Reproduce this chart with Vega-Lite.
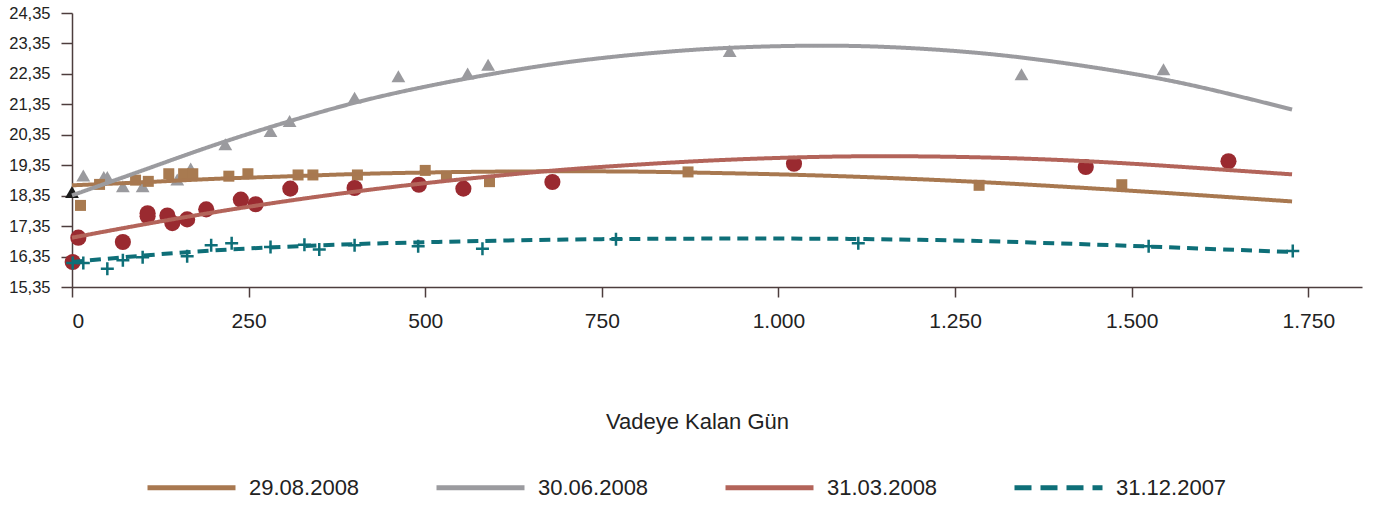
{
  "$schema": "https://vega.github.io/schema/vega-lite/v6.json",
  "width": 1290,
  "height": 274,
  "autosize": "none",
  "padding": {"left": 72, "top": 13, "right": 15, "bottom": 222},
  "background": "white",
  "config": {
    "view": {"stroke": null},
    "font": "Liberation Sans",
    "axis": {"labelFont": "Liberation Sans", "titleFont": "Liberation Sans", "labelColor": "#222", "titleColor": "#222", "domainColor": "#4d3d3d", "tickColor": "#4d3d3d", "domainWidth": 1.5, "tickWidth": 1.5, "grid": false},
    "legend": {"labelFont": "Liberation Sans", "labelColor": "#222", "padding": 0}
  },
  "datasets": {
    "noktalar": [
      {"seri": "30.06.2008", "gun": 0, "faiz": 18.47},
      {"seri": "30.06.2008", "gun": 16, "faiz": 19.01},
      {"seri": "30.06.2008", "gun": 45, "faiz": 18.96},
      {"seri": "30.06.2008", "gun": 50, "faiz": 18.96},
      {"seri": "30.06.2008", "gun": 72, "faiz": 18.66},
      {"seri": "30.06.2008", "gun": 100, "faiz": 18.66},
      {"seri": "30.06.2008", "gun": 149, "faiz": 18.88},
      {"seri": "30.06.2008", "gun": 168, "faiz": 19.24},
      {"seri": "30.06.2008", "gun": 217, "faiz": 20.04},
      {"seri": "30.06.2008", "gun": 281, "faiz": 20.47},
      {"seri": "30.06.2008", "gun": 308, "faiz": 20.8},
      {"seri": "30.06.2008", "gun": 400, "faiz": 21.57},
      {"seri": "30.06.2008", "gun": 462, "faiz": 22.27},
      {"seri": "30.06.2008", "gun": 560, "faiz": 22.36},
      {"seri": "30.06.2008", "gun": 589, "faiz": 22.65},
      {"seri": "30.06.2008", "gun": 931, "faiz": 23.1},
      {"seri": "30.06.2008", "gun": 1344, "faiz": 22.34},
      {"seri": "30.06.2008", "gun": 1545, "faiz": 22.5},
      {"seri": "29.08.2008", "gun": 12, "faiz": 18.03},
      {"seri": "29.08.2008", "gun": 39, "faiz": 18.72},
      {"seri": "29.08.2008", "gun": 90, "faiz": 18.86},
      {"seri": "29.08.2008", "gun": 108, "faiz": 18.82},
      {"seri": "29.08.2008", "gun": 137, "faiz": 19.07},
      {"seri": "29.08.2008", "gun": 158, "faiz": 19.07},
      {"seri": "29.08.2008", "gun": 171, "faiz": 19.07},
      {"seri": "29.08.2008", "gun": 222, "faiz": 18.99},
      {"seri": "29.08.2008", "gun": 249, "faiz": 19.07},
      {"seri": "29.08.2008", "gun": 320, "faiz": 19.03},
      {"seri": "29.08.2008", "gun": 341, "faiz": 19.03},
      {"seri": "29.08.2008", "gun": 404, "faiz": 19.03},
      {"seri": "29.08.2008", "gun": 500, "faiz": 19.18},
      {"seri": "29.08.2008", "gun": 530, "faiz": 18.99},
      {"seri": "29.08.2008", "gun": 591, "faiz": 18.81},
      {"seri": "29.08.2008", "gun": 872, "faiz": 19.13},
      {"seri": "29.08.2008", "gun": 1284, "faiz": 18.69},
      {"seri": "29.08.2008", "gun": 1486, "faiz": 18.71},
      {"seri": "31.03.2008", "gun": 1, "faiz": 16.17},
      {"seri": "31.03.2008", "gun": 9, "faiz": 16.97},
      {"seri": "31.03.2008", "gun": 72, "faiz": 16.83},
      {"seri": "31.03.2008", "gun": 107, "faiz": 17.77},
      {"seri": "31.03.2008", "gun": 107, "faiz": 17.67},
      {"seri": "31.03.2008", "gun": 135, "faiz": 17.7},
      {"seri": "31.03.2008", "gun": 142, "faiz": 17.45},
      {"seri": "31.03.2008", "gun": 163, "faiz": 17.57},
      {"seri": "31.03.2008", "gun": 190, "faiz": 17.9},
      {"seri": "31.03.2008", "gun": 239, "faiz": 18.22},
      {"seri": "31.03.2008", "gun": 260, "faiz": 18.07},
      {"seri": "31.03.2008", "gun": 309, "faiz": 18.58},
      {"seri": "31.03.2008", "gun": 400, "faiz": 18.6},
      {"seri": "31.03.2008", "gun": 491, "faiz": 18.71},
      {"seri": "31.03.2008", "gun": 554, "faiz": 18.58},
      {"seri": "31.03.2008", "gun": 680, "faiz": 18.8},
      {"seri": "31.03.2008", "gun": 1022, "faiz": 19.4},
      {"seri": "31.03.2008", "gun": 1435, "faiz": 19.29},
      {"seri": "31.03.2008", "gun": 1637, "faiz": 19.48},
      {"seri": "31.12.2007", "gun": 1, "faiz": 16.14},
      {"seri": "31.12.2007", "gun": 16, "faiz": 16.14},
      {"seri": "31.12.2007", "gun": 50, "faiz": 15.95},
      {"seri": "31.12.2007", "gun": 72, "faiz": 16.23},
      {"seri": "31.12.2007", "gun": 100, "faiz": 16.33},
      {"seri": "31.12.2007", "gun": 163, "faiz": 16.36},
      {"seri": "31.12.2007", "gun": 197, "faiz": 16.72},
      {"seri": "31.12.2007", "gun": 226, "faiz": 16.79},
      {"seri": "31.12.2007", "gun": 281, "faiz": 16.66},
      {"seri": "31.12.2007", "gun": 329, "faiz": 16.74},
      {"seri": "31.12.2007", "gun": 350, "faiz": 16.58},
      {"seri": "31.12.2007", "gun": 400, "faiz": 16.72},
      {"seri": "31.12.2007", "gun": 490, "faiz": 16.69},
      {"seri": "31.12.2007", "gun": 581, "faiz": 16.61},
      {"seri": "31.12.2007", "gun": 770, "faiz": 16.92},
      {"seri": "31.12.2007", "gun": 1113, "faiz": 16.79},
      {"seri": "31.12.2007", "gun": 1524, "faiz": 16.69},
      {"seri": "31.12.2007", "gun": 1728, "faiz": 16.53}
    ],
    "egriler": [
      {"seri": "29.08.2008", "gun": 0, "faiz": 18.69},
      {"seri": "29.08.2008", "gun": 100, "faiz": 18.79},
      {"seri": "29.08.2008", "gun": 200, "faiz": 18.9},
      {"seri": "29.08.2008", "gun": 300, "faiz": 18.98},
      {"seri": "29.08.2008", "gun": 400, "faiz": 19.06},
      {"seri": "29.08.2008", "gun": 500, "faiz": 19.11},
      {"seri": "29.08.2008", "gun": 600, "faiz": 19.14},
      {"seri": "29.08.2008", "gun": 700, "faiz": 19.15},
      {"seri": "29.08.2008", "gun": 800, "faiz": 19.14},
      {"seri": "29.08.2008", "gun": 900, "faiz": 19.1},
      {"seri": "29.08.2008", "gun": 1000, "faiz": 19.05},
      {"seri": "29.08.2008", "gun": 1100, "faiz": 18.98},
      {"seri": "29.08.2008", "gun": 1200, "faiz": 18.89},
      {"seri": "29.08.2008", "gun": 1300, "faiz": 18.78},
      {"seri": "29.08.2008", "gun": 1400, "faiz": 18.65},
      {"seri": "29.08.2008", "gun": 1500, "faiz": 18.51},
      {"seri": "29.08.2008", "gun": 1600, "faiz": 18.36},
      {"seri": "29.08.2008", "gun": 1727, "faiz": 18.16},
      {"seri": "30.06.2008", "gun": 0, "faiz": 18.36},
      {"seri": "30.06.2008", "gun": 100, "faiz": 19.18},
      {"seri": "30.06.2008", "gun": 200, "faiz": 20.0},
      {"seri": "30.06.2008", "gun": 300, "faiz": 20.74},
      {"seri": "30.06.2008", "gun": 400, "faiz": 21.4},
      {"seri": "30.06.2008", "gun": 500, "faiz": 21.93},
      {"seri": "30.06.2008", "gun": 600, "faiz": 22.37},
      {"seri": "30.06.2008", "gun": 700, "faiz": 22.73},
      {"seri": "30.06.2008", "gun": 800, "faiz": 22.99},
      {"seri": "30.06.2008", "gun": 900, "faiz": 23.17},
      {"seri": "30.06.2008", "gun": 1000, "faiz": 23.26},
      {"seri": "30.06.2008", "gun": 1100, "faiz": 23.27},
      {"seri": "30.06.2008", "gun": 1200, "faiz": 23.18},
      {"seri": "30.06.2008", "gun": 1300, "faiz": 23.0},
      {"seri": "30.06.2008", "gun": 1400, "faiz": 22.72},
      {"seri": "30.06.2008", "gun": 1500, "faiz": 22.36},
      {"seri": "30.06.2008", "gun": 1600, "faiz": 21.9},
      {"seri": "30.06.2008", "gun": 1727, "faiz": 21.18},
      {"seri": "31.03.2008", "gun": 0, "faiz": 16.97},
      {"seri": "31.03.2008", "gun": 100, "faiz": 17.4},
      {"seri": "31.03.2008", "gun": 200, "faiz": 17.8},
      {"seri": "31.03.2008", "gun": 300, "faiz": 18.16},
      {"seri": "31.03.2008", "gun": 400, "faiz": 18.48},
      {"seri": "31.03.2008", "gun": 500, "faiz": 18.76},
      {"seri": "31.03.2008", "gun": 600, "faiz": 19.0},
      {"seri": "31.03.2008", "gun": 700, "faiz": 19.21},
      {"seri": "31.03.2008", "gun": 800, "faiz": 19.37},
      {"seri": "31.03.2008", "gun": 900, "faiz": 19.5},
      {"seri": "31.03.2008", "gun": 1000, "faiz": 19.59},
      {"seri": "31.03.2008", "gun": 1100, "faiz": 19.64},
      {"seri": "31.03.2008", "gun": 1200, "faiz": 19.64},
      {"seri": "31.03.2008", "gun": 1300, "faiz": 19.6},
      {"seri": "31.03.2008", "gun": 1400, "faiz": 19.52},
      {"seri": "31.03.2008", "gun": 1500, "faiz": 19.4},
      {"seri": "31.03.2008", "gun": 1600, "faiz": 19.25},
      {"seri": "31.03.2008", "gun": 1727, "faiz": 19.05},
      {"seri": "31.12.2007", "gun": 0, "faiz": 16.17},
      {"seri": "31.12.2007", "gun": 100, "faiz": 16.38},
      {"seri": "31.12.2007", "gun": 200, "faiz": 16.55},
      {"seri": "31.12.2007", "gun": 300, "faiz": 16.67},
      {"seri": "31.12.2007", "gun": 400, "faiz": 16.76},
      {"seri": "31.12.2007", "gun": 500, "faiz": 16.82},
      {"seri": "31.12.2007", "gun": 600, "faiz": 16.87},
      {"seri": "31.12.2007", "gun": 700, "faiz": 16.91},
      {"seri": "31.12.2007", "gun": 800, "faiz": 16.93},
      {"seri": "31.12.2007", "gun": 900, "faiz": 16.94},
      {"seri": "31.12.2007", "gun": 1000, "faiz": 16.94},
      {"seri": "31.12.2007", "gun": 1100, "faiz": 16.93},
      {"seri": "31.12.2007", "gun": 1200, "faiz": 16.9},
      {"seri": "31.12.2007", "gun": 1300, "faiz": 16.85},
      {"seri": "31.12.2007", "gun": 1400, "faiz": 16.78},
      {"seri": "31.12.2007", "gun": 1500, "faiz": 16.7},
      {"seri": "31.12.2007", "gun": 1600, "faiz": 16.61},
      {"seri": "31.12.2007", "gun": 1727, "faiz": 16.5}
    ]
  },
  "encoding": {
    "x": {
      "field": "gun", "type": "quantitative",
      "scale": {"domain": [0, 1826], "nice": false, "zero": false},
      "axis": {
        "values": [0, 250, 500, 750, 1000, 1250, 1500, 1750],
        "labelExpr": "replace(format(datum.value, ','), ',', '.')",
        "labelFontSize": 21, "tickSize": 10, "labelPadding": 13,
        "title": "Vadeye Kalan Gün", "titleFontSize": 22, "titleFontWeight": "normal",
        "titleX": 625, "titleY": 134, "titleAlign": "center", "titleBaseline": "middle"
      }
    },
    "y": {
      "field": "faiz", "type": "quantitative",
      "scale": {"domain": [15.35, 24.35], "nice": false, "zero": false},
      "axis": {
        "values": [15.35, 16.35, 17.35, 18.35, 19.35, 20.35, 21.35, 22.35, 23.35, 24.35],
        "labelExpr": "replace(format(datum.value, '.2f'), '.', ',')",
        "labelFontSize": 16.5, "tickSize": 11, "labelPadding": 11, "title": null
      }
    }
  },
  "layer": [
    {
      "data": {"name": "noktalar"},
      "transform": [{"filter": "datum.seri !== '31.12.2007'"}],
      "mark": {"type": "point", "filled": true, "opacity": 1},
      "encoding": {
        "color": {
          "condition": {"test": "datum.gun === 0 && datum.seri === '30.06.2008'", "value": "#1c1c1c"},
          "field": "seri", "type": "nominal",
          "scale": {"domain": ["29.08.2008", "30.06.2008", "31.03.2008"], "range": ["#a87a50", "#9a9a9e", "#9a2a30"]},
          "legend": null
        },
        "shape": {
          "field": "seri", "type": "nominal",
          "scale": {"domain": ["29.08.2008", "30.06.2008", "31.03.2008"], "range": ["square", "triangle-up", "circle"]},
          "legend": null
        },
        "size": {
          "field": "seri", "type": "nominal",
          "scale": {"domain": ["29.08.2008", "30.06.2008", "31.03.2008"], "range": [121, 260, 125]},
          "legend": null
        }
      }
    },
    {
      "data": {"name": "noktalar"},
      "transform": [{"filter": "datum.seri === '31.12.2007'"}],
      "mark": {"type": "point", "filled": false, "shape": "M-1,0H1M0,-1V1", "size": 169, "strokeWidth": 2.5, "color": "#0e6f78", "opacity": 1},
      "encoding": {}
    },
    {
      "data": {"name": "egriler"},
      "mark": {"type": "line", "strokeWidth": 4, "interpolate": "natural"},
      "encoding": {
        "color": {
          "field": "seri", "type": "nominal",
          "scale": {"domain": ["29.08.2008", "30.06.2008", "31.03.2008", "31.12.2007"], "range": ["#a87850", "#9b9b9f", "#b3645a", "#0e6f78"]},
          "legend": {
            "title": null, "orient": "none", "direction": "horizontal",
            "legendX": 73, "legendY": 428,
            "symbolType": "stroke", "symbolSize": 7744, "symbolStrokeWidth": 5,
            "labelFontSize": 22, "labelOffset": 11, "columnPadding": 66, "labelLimit": 300,
            "encode": {"symbols": {"update": {"strokeDash": {"signal": "datum.value === '31.12.2007' ? [17, 9] : [1, 0]"}}}}
          }
        },
        "strokeDash": {
          "field": "seri", "type": "nominal",
          "scale": {"domain": ["29.08.2008", "30.06.2008", "31.03.2008", "31.12.2007"], "range": [[1, 0], [1, 0], [1, 0], [11, 7]]},
          "legend": null
        }
      }
    }
  ],
  "resolve": {"scale": {"color": "independent", "shape": "independent", "size": "independent"}}
}
